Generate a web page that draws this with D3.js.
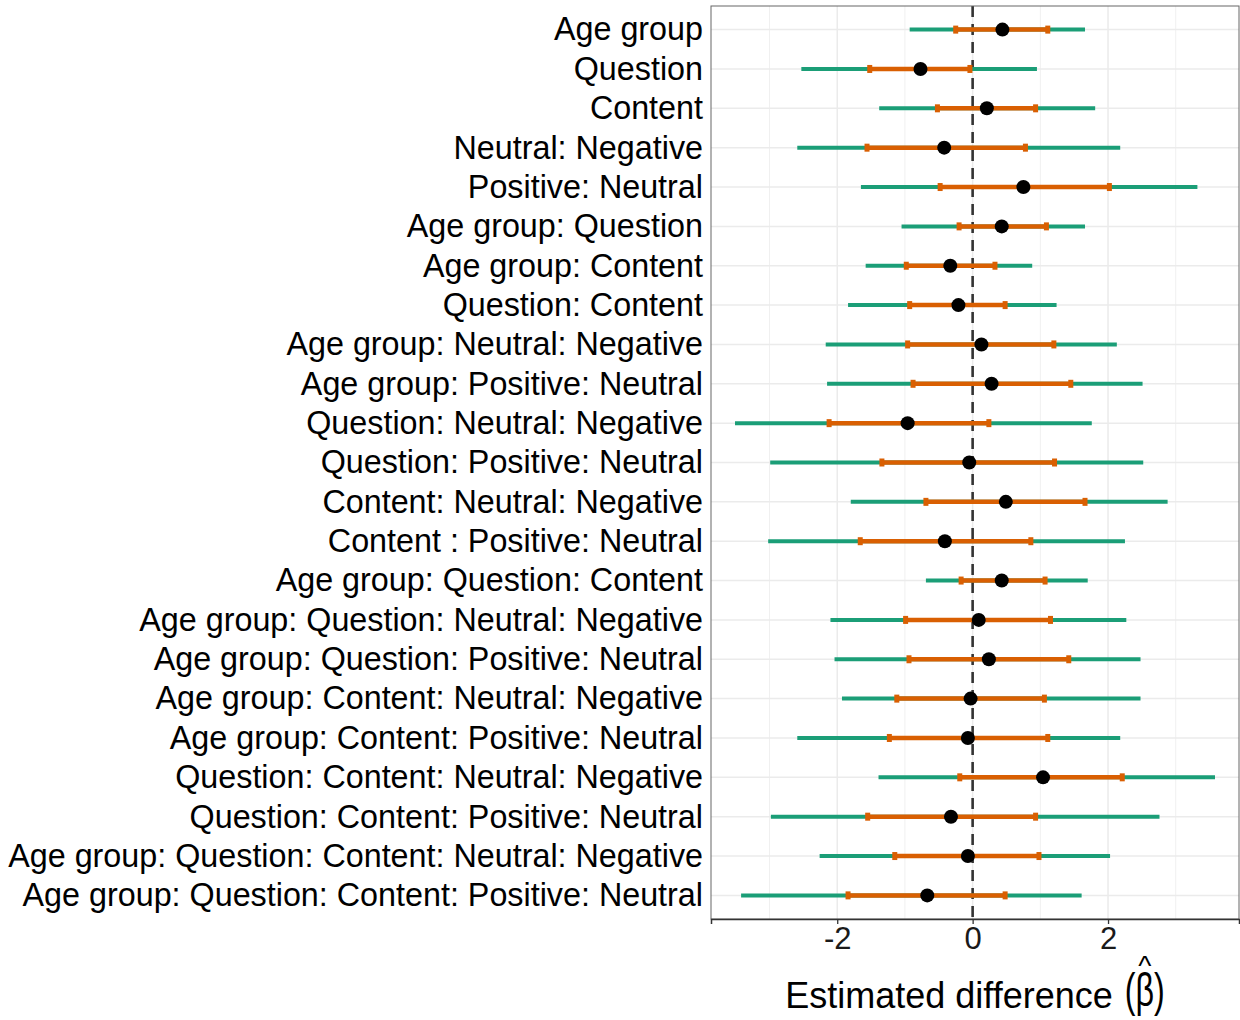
<!DOCTYPE html>
<html>
<head>
<meta charset="utf-8">
<script src="https://cdn.jsdelivr.net/npm/d3@7"></script>
<style>
  html, body { margin: 0; padding: 0; background: #ffffff; }
  svg { display: block; font-family: "Liberation Sans", Arial, Helvetica, sans-serif; }
</style>
</head>
<body>
<svg id="chart" width="1240" height="1020"></svg>
<script>
// Model terms, top to bottom
const terms = [
  "Age group", "Question", "Content", "Neutral: Negative", "Positive: Neutral",
  "Age group: Question", "Age group: Content", "Question: Content",
  "Age group: Neutral: Negative", "Age group: Positive: Neutral",
  "Question: Neutral: Negative", "Question: Positive: Neutral",
  "Content: Neutral: Negative", "Content : Positive: Neutral",
  "Age group: Question: Content", "Age group: Question: Neutral: Negative",
  "Age group: Question: Positive: Neutral", "Age group: Content: Neutral: Negative",
  "Age group: Content: Positive: Neutral", "Question: Content: Neutral: Negative",
  "Question: Content: Positive: Neutral", "Age group: Question: Content: Neutral: Negative",
  "Age group: Question: Content: Positive: Neutral"
];

// Point estimates
const estimate = [0.44, -0.77, 0.21, -0.42, 0.75, 0.43, -0.33, -0.21, 0.13, 0.28,
  -0.96, -0.05, 0.49, -0.41, 0.43, 0.09, 0.24, -0.03, -0.07, 1.04, -0.32, -0.07, -0.67];

// Outer interval (wide)
const outerLow = [-0.93, -2.53, -1.38, -2.59, -1.65, -1.05, -1.58, -1.84, -2.17, -2.15,
  -3.51, -2.99, -1.80, -3.02, -0.69, -2.10, -2.04, -1.93, -2.59, -1.39, -2.98, -2.26, -3.42];
const outerHigh = [1.66, 0.95, 1.81, 2.18, 3.32, 1.66, 0.88, 1.24, 2.13, 2.51,
  1.76, 2.52, 2.88, 2.25, 1.70, 2.27, 2.48, 2.48, 2.18, 3.58, 2.76, 2.03, 1.61];

// Inner interval (narrow)
const innerLow = [-0.25, -1.52, -0.52, -1.56, -0.48, -0.20, -0.98, -0.93, -0.96, -0.88,
  -2.12, -1.34, -0.69, -1.66, -0.17, -0.99, -0.94, -1.12, -1.23, -0.19, -1.55, -1.15, -1.84];
const innerHigh = [1.11, -0.04, 0.93, 0.78, 2.02, 1.09, 0.33, 0.48, 1.20, 1.45,
  0.24, 1.21, 1.66, 0.86, 1.07, 1.15, 1.42, 1.06, 1.11, 2.21, 0.93, 0.98, 0.48];

const xTicks = [-2, 0, 2];
const xMinor = [-3, -1, 1, 3];

const colOuter = "#1b9e77";
const colInner = "#d95f02";

const rows = terms.map((t, i) => ({
  term: t, est: estimate[i],
  oLo: outerLow[i], oHi: outerHigh[i],
  iLo: innerLow[i], iHi: innerHigh[i]
}));

const svg = d3.select("#chart");
const panel = { left: 711, right: 1239, top: 6, bottom: 919 };
const labelFont = "'Liberation Sans', Arial, sans-serif";

// x domain padded by 5% of the data span on each side
const lo = d3.min(outerLow), hi = d3.max(outerHigh);
const pad = (hi - lo) * 0.05;
const x = d3.scaleLinear().domain([lo - pad, hi + pad]).range([panel.left, panel.right]);
const y = d3.scalePoint().domain(terms).range([panel.top, panel.bottom]).padding(0.6);

// Grid
const grid = svg.append("g");
grid.selectAll(".minor").data(xMinor).enter().append("line")
  .attr("x1", d => x(d)).attr("x2", d => x(d))
  .attr("y1", panel.top).attr("y2", panel.bottom)
  .attr("stroke", "#f0f0f0").attr("stroke-width", 1);
grid.selectAll(".major").data(xTicks).enter().append("line")
  .attr("x1", d => x(d)).attr("x2", d => x(d))
  .attr("y1", panel.top).attr("y2", panel.bottom)
  .attr("stroke", "#ebebeb").attr("stroke-width", 1.5);
grid.selectAll(".hgrid").data(terms).enter().append("line")
  .attr("x1", panel.left).attr("x2", panel.right)
  .attr("y1", d => y(d)).attr("y2", d => y(d))
  .attr("stroke", "#ebebeb").attr("stroke-width", 1.5);

// Reference line at zero
svg.append("line")
  .attr("x1", x(0)).attr("x2", x(0))
  .attr("y1", panel.top).attr("y2", panel.bottom)
  .attr("stroke", "#333333").attr("stroke-width", 2.6)
  .attr("stroke-dasharray", "11,7");

// Intervals
const marks = svg.append("g");
marks.selectAll(".outer").data(rows).enter().append("line")
  .attr("x1", d => x(d.oLo)).attr("x2", d => x(d.oHi))
  .attr("y1", d => y(d.term)).attr("y2", d => y(d.term))
  .attr("stroke", colOuter).attr("stroke-width", 4);
marks.selectAll(".inner").data(rows).enter().append("line")
  .attr("x1", d => x(d.iLo)).attr("x2", d => x(d.iHi))
  .attr("y1", d => y(d.term)).attr("y2", d => y(d.term))
  .attr("stroke", colInner).attr("stroke-width", 4.5);
const caps = rows.flatMap(d => [{ term: d.term, v: d.iLo }, { term: d.term, v: d.iHi }]);
marks.selectAll(".cap").data(caps).enter().append("rect")
  .attr("x", d => x(d.v) - 2.5).attr("y", d => y(d.term) - 4)
  .attr("width", 5).attr("height", 8)
  .attr("fill", colInner);
marks.selectAll(".pt").data(rows).enter().append("circle")
  .attr("cx", d => x(d.est)).attr("cy", d => y(d.term))
  .attr("r", 7).attr("fill", "#000000");

// Panel border
svg.append("rect")
  .attr("x", panel.left).attr("y", panel.top)
  .attr("width", panel.right - panel.left).attr("height", panel.bottom - panel.top)
  .attr("fill", "none").attr("stroke", "#666666").attr("stroke-width", 1);

// Axes
const xAxis = svg.append("g")
  .attr("transform", `translate(0,${panel.bottom})`)
  .call(d3.axisBottom(x).tickValues(xTicks).tickFormat(d3.format("d")).tickSize(5).tickPadding(3));
xAxis.select(".domain").attr("stroke", "#333333").attr("stroke-width", 1.5);
xAxis.selectAll(".tick line").attr("stroke", "#333333").attr("stroke-width", 1.3);
xAxis.selectAll(".tick text")
  .attr("font-size", 31).attr("fill", "#1a1a1a")
  .attr("font-family", labelFont)
  .text(d => d < 0 ? "-" + Math.abs(d) : d);

const yAxis = svg.append("g")
  .attr("transform", `translate(${panel.left},0)`)
  .call(d3.axisLeft(y).tickSize(0).tickPadding(8));
yAxis.select(".domain").remove();
yAxis.selectAll(".tick line").remove();
yAxis.selectAll(".tick text")
  .attr("font-size", 32.3).attr("fill", "#000000")
  .attr("font-family", labelFont);

// Axis title: words, then a tall, narrow "(β)" with a hat placed over beta
const title = svg.append("text")
  .attr("font-size", 36).attr("fill", "#000000")
  .attr("y", 1008);
title.append("tspan").text("Estimated difference");
title.append("tspan")
  .attr("dx", 12).attr("dy", -2)
  .attr("font-size", 47)
  .attr("textLength", 40).attr("lengthAdjust", "spacingAndGlyphs")
  .text("(β)");
const tn = title.node();
const totalW = tn.getComputedTextLength() + 12;
title.attr("x", (panel.left + panel.right) / 2 - totalW / 2);
const betaBox = tn.getExtentOfChar(21);
const hat = title.append("tspan")
  .attr("font-size", 28)
  .attr("y", 975)
  .text("^");
const hatW = hat.node().getComputedTextLength();
hat.attr("x", betaBox.x + betaBox.width / 2 - hatW / 2);
</script>
</body>
</html>
